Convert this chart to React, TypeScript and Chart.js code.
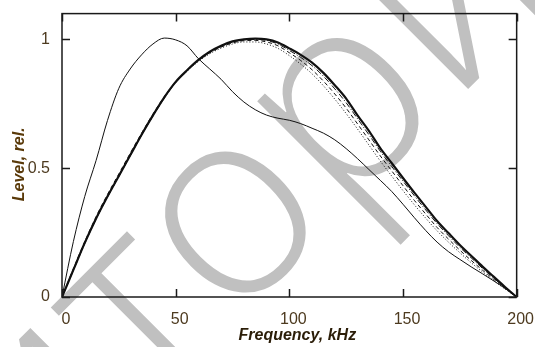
import React, { useEffect, useRef } from "react";
import { Chart, registerables } from "chart.js";

Chart.register(...registerables);

// ---- data ----
const FREQ = [0, 5, 10, 15, 20, 25, 30, 35, 40, 45, 50, 55, 60, 65, 70, 75, 80, 85, 90, 95, 100, 105, 110, 115, 120, 125, 130, 135, 140, 145, 150, 155, 160, 165, 170, 175, 180, 185, 190, 195, 200];

const CURVE_A = [0, 0.215, 0.39, 0.53, 0.685, 0.81, 0.885, 0.94, 0.982, 1.005, 0.998, 0.975, 0.925, 0.885, 0.845, 0.797, 0.757, 0.727, 0.706, 0.694, 0.686, 0.673, 0.655, 0.636, 0.61, 0.576, 0.537, 0.495, 0.453, 0.41, 0.36, 0.308, 0.258, 0.213, 0.176, 0.146, 0.117, 0.09, 0.062, 0.033, 0];

const CURVE_B1 = [0, 0.105, 0.21, 0.305, 0.39, 0.47, 0.55, 0.63, 0.705, 0.775, 0.835, 0.88, 0.92, 0.952, 0.975, 0.992, 1.0, 1.003, 1.0, 0.988, 0.965, 0.94, 0.91, 0.87, 0.822, 0.77, 0.705, 0.645, 0.578, 0.52, 0.462, 0.405, 0.35, 0.295, 0.248, 0.202, 0.16, 0.118, 0.078, 0.038, 0];

const CURVE_B2 = [0, 0.11, 0.215, 0.312, 0.398, 0.478, 0.558, 0.636, 0.71, 0.778, 0.836, 0.88, 0.918, 0.948, 0.97, 0.986, 0.995, 0.996, 0.99, 0.975, 0.948, 0.918, 0.882, 0.838, 0.788, 0.733, 0.672, 0.61, 0.548, 0.49, 0.432, 0.375, 0.322, 0.27, 0.225, 0.182, 0.142, 0.104, 0.068, 0.033, 0];

const CURVE_B3 = [0, 0.108, 0.213, 0.308, 0.394, 0.474, 0.553, 0.632, 0.706, 0.774, 0.832, 0.876, 0.914, 0.944, 0.966, 0.982, 0.99, 0.99, 0.982, 0.965, 0.937, 0.904, 0.866, 0.82, 0.768, 0.712, 0.652, 0.59, 0.528, 0.47, 0.413, 0.358, 0.306, 0.257, 0.213, 0.172, 0.133, 0.097, 0.063, 0.03, 0];

const CURVE_B4 = [0, 0.103, 0.207, 0.302, 0.388, 0.468, 0.548, 0.628, 0.702, 0.772, 0.832, 0.878, 0.918, 0.95, 0.973, 0.99, 0.998, 1.0, 0.996, 0.982, 0.957, 0.93, 0.898, 0.857, 0.808, 0.754, 0.692, 0.63, 0.566, 0.507, 0.45, 0.393, 0.338, 0.285, 0.238, 0.193, 0.152, 0.111, 0.073, 0.035, 0];

const X_TICKS = [0, 50, 100, 150, 200];
const Y_TICKS = [0, 0.5, 1];
const X_TITLE = "Frequency, kHz";
const Y_TITLE = "Level, rel.";
const WATERMARK = "репозиторий";
const WATERMARK_PREFIX = "репозит";
const WATERMARK_O = "о";

// ---- style ----
const W = 535;
const H = 347;
const WM_SIZE = 265;
const WM_CX = 235;
const WM_CY = 222;
const WM_ANGLE = -45;
const TICK_COLOR = "#4d3a1f";
const TITLE_COLOR = "#2b1d08";
const YTITLE_COLOR = "#5a3a0a";
const FRAME = "#1a1a1a";

const watermarkPlugin = {
  id: "wm",
  beforeDraw(chart: any) {
    const ctx = chart.ctx;
    ctx.save();
    ctx.font = `300 ${WM_SIZE}px "Open Sans"`;
    const pre = ctx.measureText(WATERMARK_PREFIX).width;
    const wo = ctx.measureText(WATERMARK_O).width;
    const xh = WM_SIZE * 0.535;
    ctx.translate(WM_CX, WM_CY);
    ctx.rotate((WM_ANGLE * Math.PI) / 180);
    ctx.fillStyle = "#c0c0c0";
    ctx.textBaseline = "alphabetic";
    ctx.fillText(WATERMARK, -(pre + wo / 2), xh / 2);
    ctx.restore();
  },
};

const framePlugin = {
  id: "frame",
  afterDatasetsDraw(chart: any) {
    const { ctx, chartArea: a, scales } = chart;
    ctx.save();
    ctx.strokeStyle = FRAME;
    ctx.lineWidth = 1.5;
    ctx.strokeRect(a.left, a.top, a.right - a.left, a.bottom - a.top);
    const tl = 8;
    ctx.beginPath();
    X_TICKS.forEach((v) => {
      const x = Math.round(scales.x.getPixelForValue(v)) + 0.5;
      ctx.moveTo(x, a.bottom);
      ctx.lineTo(x, a.bottom - tl);
      ctx.moveTo(x, a.top);
      ctx.lineTo(x, a.top + tl);
    });
    Y_TICKS.forEach((v) => {
      const y = Math.round(scales.y.getPixelForValue(v)) + 0.5;
      ctx.moveTo(a.left, y);
      ctx.lineTo(a.left + tl, y);
      ctx.moveTo(a.right, y);
      ctx.lineTo(a.right - tl, y);
    });
    ctx.stroke();

    // axis titles
    ctx.font = 'italic bold 16px "Liberation Sans"';
    ctx.fillStyle = TITLE_COLOR;
    ctx.textAlign = "center";
    ctx.textBaseline = "middle";
    ctx.fillText(X_TITLE, (a.left + a.right) / 2 + 8, a.bottom + 39);
    ctx.save();
    ctx.fillStyle = YTITLE_COLOR;
    ctx.translate(20, (a.top + a.bottom) / 2 + 9);
    ctx.rotate(-Math.PI / 2);
    ctx.fillText(Y_TITLE, 0, 0);
    ctx.restore();
    ctx.restore();
  },
};

function series(values: number[]) {
  return FREQ.map((f, i) => ({ x: f, y: values[i] }));
}

export default function App() {
  const ref = useRef<HTMLCanvasElement>(null);
  useEffect(() => {
    if (!ref.current) return;
    const line = (data: number[], width: number, dash: number[]) => ({
      data: series(data),
      borderColor: "#111",
      borderWidth: width,
      borderDash: dash,
      pointRadius: 0,
      fill: false,
      cubicInterpolationMode: "monotone" as const,
    });
    const chart = new Chart(ref.current, {
      type: "line",
      data: {
        datasets: [
          line(CURVE_B3, 1, [1, 2]),
          line(CURVE_B2, 1, [4, 3]),
          line(CURVE_B4, 1, [6, 2, 1, 2]),
          line(CURVE_B1, 2.2, []),
          line(CURVE_A, 1, []),
        ],
      },
      options: {
        animation: false,
        responsive: false,
        devicePixelRatio: 1,
        layout: { padding: { left: 0, right: 17, top: 9, bottom: 0 } },
        plugins: { legend: { display: false }, tooltip: { enabled: false } },
        scales: {
          x: {
            type: "linear",
            min: 0,
            max: 200,
            afterBuildTicks: (s: any) => {
              s.ticks = X_TICKS.map((v) => ({ value: v }));
            },
            afterFit: (s: any) => {
              s.height = 50;
            },
            grid: { display: false },
            border: { display: false },
            ticks: {
              color: TICK_COLOR,
              font: { family: "Liberation Sans", size: 16 },
              padding: 5,
              labelOffset: 4,
              maxRotation: 0,
            },
          },
          y: {
            type: "linear",
            min: 0,
            max: 1.1,
            afterBuildTicks: (s: any) => {
              s.ticks = Y_TICKS.map((v) => ({ value: v }));
            },
            afterFit: (s: any) => {
              s.width = 62;
            },
            grid: { display: false },
            border: { display: false },
            ticks: {
              color: TICK_COLOR,
              font: { family: "Liberation Sans", size: 16 },
              padding: 4,
              callback: (v: any) => String(v),
            },
          },
        },
      },
      plugins: [watermarkPlugin, framePlugin],
    });
    return () => chart.destroy();
  }, []);
  return (
    <div style={{ position: "fixed", left: 0, top: 0, width: W, height: H, background: "#fff" }}>
      <canvas ref={ref} width={W} height={H} style={{ width: W, height: H, display: "block" }} />
    </div>
  );
}
